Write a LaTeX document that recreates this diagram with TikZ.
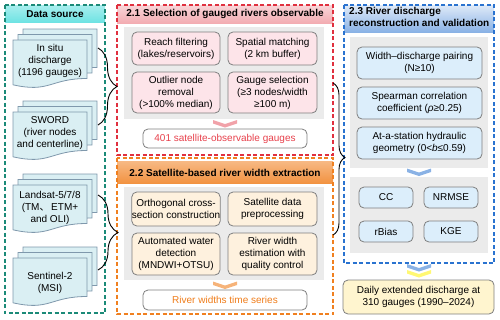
\documentclass[tikz,border=0pt]{standalone}
\usepackage{fontspec}
\setmainfont{Liberation Sans}
\newfontfamily\cjk{Noto Sans CJK SC}
\usetikzlibrary{decorations.pathreplacing}
\definecolor{cTeal}{HTML}{1B8A78}
\definecolor{cRed}{HTML}{E0303F}
\definecolor{cOrange}{HTML}{F08020}
\definecolor{cBlue}{HTML}{2A73D0}
\definecolor{cPanel}{HTML}{EBEBEB}
\definecolor{cBorder}{HTML}{7F7F7F}
\definecolor{cPink}{HTML}{FDE4E9}
\definecolor{cCream}{HTML}{FEF1DE}
\definecolor{cLBlue}{HTML}{DCEEFB}
\definecolor{cYellow}{HTML}{FFF5CF}
\definecolor{cDoc}{HTML}{DAEFF3}
\definecolor{cDocB}{HTML}{7F98AC}
\definecolor{cRedT}{HTML}{E8414C}
\definecolor{cOrgT}{HTML}{F07D1A}
\definecolor{cCyanH}{HTML}{6FE3E3}
\newcommand\docshape{(0,0) -- (74,0) -- (74,38.5) .. controls (37,38.5) and (37,53.2) .. (0,44.8) -- cycle}
\newcommand\docstack[2]{%
  \foreach \d in {10,5,0} {\path[docst, shift={(#1+\d,#2-1.1*\d)}] \docshape;}}
\newcommand\chev[3]{%
  \fill[#3] (#1-12,#2) -- (#1,#2+4) -- (#1+12,#2) -- (#1+12,#2+3.5) -- (#1,#2+7.5) -- (#1-12,#2+3.5) -- cycle;}
\begin{document}
\begin{tikzpicture}[x=1pt,y=-1pt,
  every node/.style={font=\fontsize{10}{12}\selectfont, align=center, inner sep=0pt},
  dbox/.style={dash pattern=on 4pt off 2.5pt, line width=1.3pt},
  docst/.style={fill=cDoc, draw=cDocB, line width=0.8pt},
  hdr/.style={font=\bfseries\fontsize{10}{12}\selectfont},
  ibox/.style={draw=cBorder, line width=0.8pt, rounded corners=5pt},
  brc/.style={draw=black, line width=0.9pt, decorate},
]
\useasboundingbox (0,0) rectangle (500,319);

% ---------------- Data source ----------------
\shade[top color=cCyanH!60, bottom color=cCyanH] (5,5) rectangle (105,22);
\draw[dbox, draw=cTeal] (5,5) rectangle (105,313);
\node[hdr] (dshdr) at (55,14) {Data source};

\docstack{13}{40}
\node (insitu) at (50,61) {In situ\\discharge\\(1196 gauges)};
\docstack{13}{112}
\node (sword) at (50,133) {SWORD\\(river nodes\\and centerline)};
\docstack{13}{185}
\node (landsat) at (50,208) {Landsat-5/7/8\\({TM}{\cjk 、}\,ETM+\\and OLI)};
\docstack{13}{258}
\node (sentinel) at (50,283) {Sentinel-2\\(MSI)};

% ---------------- 2.1 ----------------
\shade[top color=cRed!20, bottom color=cRed!40] (117,5) rectangle (333,23);
\draw[dbox, draw=cRed] (117,5) rectangle (333,155);
\node[hdr] (h21) at (225,14) {2.1 Selection of gauged rivers observable};
\fill[cPanel] (124,27) rectangle (324,119);
\node[ibox, fill=cPink, minimum width=88pt, minimum height=33pt] (rf) at (176,48.5) {Reach filtering\\(lakes/reservoirs)};
\node[ibox, fill=cPink, minimum width=89pt, minimum height=33pt] (sm) at (272.5,48.5) {Spatial matching\\(2 km buffer)};
\node[ibox, fill=cPink, minimum width=88pt, minimum height=41pt] (on) at (176,92.5) {Outlier node\\removal\\(>100\% median)};
\node[ibox, fill=cPink, minimum width=89pt, minimum height=41pt] (gs) at (272.5,92.5) {Gauge selection\\(≥3 nodes/width\\≥100 m)};
\chev{225}{120}{cRed!45}
\node[ibox, fill=white, minimum width=164pt, minimum height=19pt, text=cRedT] (r21) at (225,138.5) {401 satellite-observable gauges};

% ---------------- 2.2 ----------------
\shade[top color=cOrange!55, bottom color=cOrange!85] (117,161) rectangle (333,183);
\draw[dbox, draw=cOrange] (117,158) rectangle (333,314);
\node[hdr] (h22) at (225,172.5) {2.2 Satellite-based river width extraction};
\fill[cPanel] (124,187) rectangle (324,280);
\node[ibox, fill=cCream, minimum width=88pt, minimum height=34pt] (oc) at (176,209) {Orthogonal cross-\\section construction};
\node[ibox, fill=cCream, minimum width=89pt, minimum height=34pt] (sd) at (272.5,209) {Satellite data\\preprocessing};
\node[ibox, fill=cCream, minimum width=88pt, minimum height=42pt] (aw) at (176,254) {Automated water\\detection\\(MNDWI+OTSU)};
\node[ibox, fill=cCream, minimum width=89pt, minimum height=42pt] (rw) at (272.5,254) {River width\\estimation with\\quality control};
\chev{225}{281.5}{cOrange!60}
\node[ibox, fill=white, minimum width=164pt, minimum height=20pt, text=cOrgT] (r22) at (225,300) {River widths time series};

% ---------------- 2.3 ----------------
\shade[top color=cBlue!15, bottom color=cBlue!55] (344,5) rectangle (494,32);
\draw[dbox, draw=cBlue] (344,5) rectangle (494,263);
\node[hdr, align=left, anchor=north west] (h23) at (349,7.5) {2.3 River discharge\\reconstruction and validation};
\fill[cPanel] (350,37) rectangle (488,168);
\node[ibox, fill=cLBlue, minimum width=125pt, minimum height=32pt] (wd) at (419.5,63) {Width–discharge pairing\\(N≥10)};
\node[ibox, fill=cLBlue, minimum width=125pt, minimum height=32pt] (sc) at (419.5,103) {Spearman correlation\\coefficient (\textit{ρ}≥0.25)};
\node[ibox, fill=cLBlue, minimum width=125pt, minimum height=32pt] (ah) at (419.5,143) {At-a-station hydraulic\\geometry (0<\textit{b}≤0.59)};
\chev{419}{168.5}{cBlue!55}
\fill[cPanel] (350,177) rectangle (488,253);
\node[ibox, fill=cLBlue, minimum width=54pt, minimum height=21pt] (cc) at (386,197.5) {CC};
\node[ibox, fill=cLBlue, minimum width=54pt, minimum height=21pt] (nr) at (451,197.5) {NRMSE};
\node[ibox, fill=cLBlue, minimum width=54pt, minimum height=21pt] (rb) at (386,231.5) {rBias};
\node[ibox, fill=cLBlue, minimum width=54pt, minimum height=21pt] (kge) at (451,231.5) {KGE};
\chev{419}{264}{cBlue!55}
\chev{419}{270}{yellow!55}
\node[ibox, fill=cYellow, minimum width=151pt, minimum height=34pt] (fin) at (418.5,297) {Daily extended discharge at\\310 gauges (1990–2024)};

% ---------------- braces ----------------
\coordinate (b1s) at (98,48);
\coordinate (b1e) at (98,125);
\coordinate (b2s) at (98,195);
\coordinate (b2e) at (98,270);
\coordinate (b3s) at (333,83);
\coordinate (b3e) at (333,235);
\draw[brc, decoration={brace, amplitude=19pt, aspect=0.5}] (b1s) -- (b1e);
\draw[brc, decoration={brace, amplitude=20pt, aspect=0.5}] (b2s) -- (b2e);
\draw[brc, decoration={brace, amplitude=12pt, aspect=0.49}] (b3s) -- (b3e);
\end{tikzpicture}
\end{document}
